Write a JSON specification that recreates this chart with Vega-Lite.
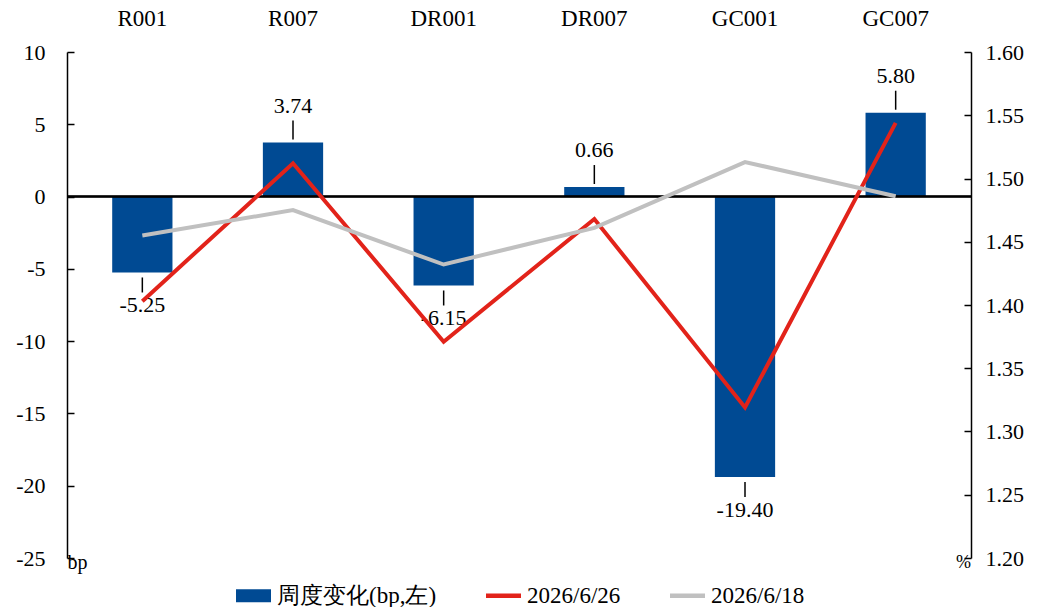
{
  "$schema": "https://vega.github.io/schema/vega-lite/v6.json",
  "width": 904,
  "height": 506,
  "autosize": {"type": "none"},
  "padding": {"left": 67, "top": 52, "right": 67, "bottom": 49},
  "background": "white",
  "config": {
    "font": "Liberation Serif",
    "view": {"stroke": null},
    "locale": {"number": {"decimal": ".", "thousands": ",", "grouping": [3], "currency": ["$", ""], "minus": "-"}},
    "axis": {"labelColor": "black", "titleColor": "black", "labelFont": "Liberation Serif", "titleFont": "Liberation Serif"},
    "legend": {"labelFont": "Liberation Serif"}
  },
  "data": {
    "values": [
      {"cat": "R001", "series": "周度变化(bp,左)", "value": -5.25},
      {"cat": "R007", "series": "周度变化(bp,左)", "value": 3.74},
      {"cat": "DR001", "series": "周度变化(bp,左)", "value": -6.15},
      {"cat": "DR007", "series": "周度变化(bp,左)", "value": 0.66},
      {"cat": "GC001", "series": "周度变化(bp,左)", "value": -19.40},
      {"cat": "GC007", "series": "周度变化(bp,左)", "value": 5.80},
      {"cat": "R001", "series": "2026/6/26", "value": 1.403},
      {"cat": "R007", "series": "2026/6/26", "value": 1.512},
      {"cat": "DR001", "series": "2026/6/26", "value": 1.371},
      {"cat": "DR007", "series": "2026/6/26", "value": 1.468},
      {"cat": "GC001", "series": "2026/6/26", "value": 1.319},
      {"cat": "GC007", "series": "2026/6/26", "value": 1.544},
      {"cat": "R001", "series": "2026/6/18", "value": 1.455},
      {"cat": "R007", "series": "2026/6/18", "value": 1.475},
      {"cat": "DR001", "series": "2026/6/18", "value": 1.432},
      {"cat": "DR007", "series": "2026/6/18", "value": 1.461},
      {"cat": "GC001", "series": "2026/6/18", "value": 1.513},
      {"cat": "GC007", "series": "2026/6/18", "value": 1.486}
    ]
  },
  "layer": [
    {
      "transform": [{"filter": "datum.series === '周度变化(bp,左)'"}],
      "encoding": {
        "y": {
          "field": "value", "type": "quantitative",
          "scale": {"domain": [-25, 10], "nice": false, "zero": false},
          "axis": {
            "orient": "left", "values": [-25, -20, -15, -10, -5, 0, 5, 10], "grid": false,
            "tickSize": -7, "tickWidth": 1.5, "tickColor": "black", "domainColor": "black", "domainWidth": 1.5,
            "labelFontSize": 22, "labelPadding": 29, "labelFont": "Liberation Serif",
            "title": "bp", "titleAngle": 0, "titleX": 0, "titleY": 510, "titleAlign": "left", "titleBaseline": "middle",
            "titleFontWeight": "normal", "titleFontSize": 20, "titleFont": "Liberation Serif"
          }
        }
      },
      "layer": [
        {
          "mark": {"type": "bar", "color": "#004A93"},
          "encoding": {
            "x": {
              "field": "cat", "type": "nominal", "sort": ["R001", "R007", "DR001", "DR007", "GC001", "GC007"],
              "scale": {"paddingInner": 0.6, "paddingOuter": 0.3},
              "axis": {"orient": "top", "title": null, "domain": false, "ticks": false, "labelAngle": 0, "labelFontSize": 23, "labelPadding": 22, "labelFont": "Liberation Serif"}
            },
            "y2": {"datum": 0}
          }
        },
        {
          "mark": {"type": "rule", "color": "black", "strokeWidth": 1.5},
          "encoding": {"y": {"datum": 0}}
        },
        {
          "transform": [{"filter": "datum.value > 0"}],
          "mark": {"type": "rule", "color": "black", "strokeWidth": 1.5, "yOffset": -3, "y2Offset": -22},
          "encoding": {
            "x": {"field": "cat", "type": "nominal", "sort": ["R001", "R007", "DR001", "DR007", "GC001", "GC007"]},
            "y2": {"field": "value"}
          }
        },
        {
          "transform": [{"filter": "datum.value < 0"}],
          "mark": {"type": "rule", "color": "black", "strokeWidth": 1.5, "yOffset": 5, "y2Offset": 20},
          "encoding": {
            "x": {"field": "cat", "type": "nominal", "sort": ["R001", "R007", "DR001", "DR007", "GC001", "GC007"]},
            "y2": {"field": "value"}
          }
        },
        {
          "transform": [{"filter": "datum.value > 0"}],
          "mark": {"type": "text", "fontSize": 22, "baseline": "bottom", "dy": -25, "color": "black", "font": "Liberation Serif"},
          "encoding": {
            "x": {"field": "cat", "type": "nominal", "sort": ["R001", "R007", "DR001", "DR007", "GC001", "GC007"]},
            "text": {"field": "value", "type": "quantitative", "format": ".2f"}
          }
        },
        {
          "transform": [{"filter": "datum.value < 0"}],
          "mark": {"type": "text", "fontSize": 22, "baseline": "top", "dy": 23, "color": "black", "font": "Liberation Serif"},
          "encoding": {
            "x": {"field": "cat", "type": "nominal", "sort": ["R001", "R007", "DR001", "DR007", "GC001", "GC007"]},
            "text": {"field": "value", "type": "quantitative", "format": ".2f"}
          }
        }
      ]
    },
    {
      "encoding": {
        "y": {
          "field": "value", "type": "quantitative",
          "scale": {"domain": [1.2, 1.6], "nice": false, "zero": false},
          "axis": {
            "orient": "right", "values": [1.2, 1.25, 1.3, 1.35, 1.4, 1.45, 1.5, 1.55, 1.6], "format": ".2f", "grid": false,
            "tickSize": -7, "tickWidth": 1.5, "tickColor": "black", "domainColor": "black", "domainWidth": 1.5,
            "labelFontSize": 22, "labelPadding": 21, "labelFont": "Liberation Serif",
            "title": "%", "titleAngle": 0, "titleX": -8, "titleY": 510, "titleAlign": "center", "titleBaseline": "middle",
            "titleFontWeight": "normal", "titleFontSize": 18, "titleFont": "Liberation Serif"
          }
        }
      },
      "layer": [
        {
          "transform": [{"filter": "datum.series === '2026/6/26'"}],
          "mark": {"type": "line", "color": "#E2231A", "strokeWidth": 4},
          "encoding": {
            "x": {"field": "cat", "type": "nominal", "sort": ["R001", "R007", "DR001", "DR007", "GC001", "GC007"]}
          }
        },
        {
          "transform": [{"filter": "datum.series === '2026/6/18'"}],
          "mark": {"type": "line", "color": "#C0C0C0", "strokeWidth": 4},
          "encoding": {
            "x": {"field": "cat", "type": "nominal", "sort": ["R001", "R007", "DR001", "DR007", "GC001", "GC007"]}
          }
        },
        {
          "mark": {"type": "point", "filled": true, "opacity": 0},
          "encoding": {
            "color": {
              "field": "series", "type": "nominal",
              "scale": {"domain": ["周度变化(bp,左)", "2026/6/26", "2026/6/18"], "range": ["#004A93", "#E2231A", "#C0C0C0"]},
              "legend": {
                "title": null, "orient": "none", "legendX": 168, "legendY": 525, "direction": "horizontal",
                "labelFontSize": 23, "labelFont": "Liberation Serif", "labelColor": "black", "symbolSize": 1225, "labelOffset": 5, "columnPadding": 48,
                "symbolOpacity": 1,
                "encode": {"symbols": {"update": {"opacity": {"value": 1}}}}
              }
            },
            "shape": {
              "field": "series", "type": "nominal",
              "scale": {"domain": ["周度变化(bp,左)", "2026/6/26", "2026/6/18"], "range": ["M-1,-0.37H1V0.37H-1Z", "M-1,-0.13H1V0.13H-1Z", "M-1,-0.13H1V0.13H-1Z"]},
              "legend": {
                "title": null, "orient": "none", "legendX": 168, "legendY": 525, "direction": "horizontal",
                "labelFontSize": 23, "labelFont": "Liberation Serif", "labelColor": "black", "symbolSize": 1225, "labelOffset": 5, "columnPadding": 48,
                "symbolOpacity": 1,
                "encode": {"symbols": {"update": {"opacity": {"value": 1}}}}
              }
            }
          }
        }
      ]
    }
  ],
  "resolve": {"scale": {"y": "independent"}}
}
